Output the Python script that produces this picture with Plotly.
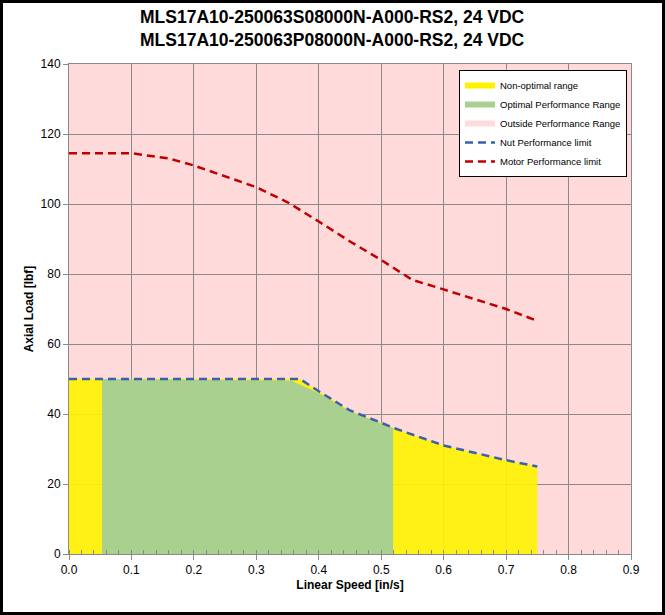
import plotly.graph_objects as go

# ---- data ----
nut_x = [0.0, 0.37, 0.40, 0.45, 0.50, 0.52, 0.60, 0.70, 0.75]
nut_y = [50.0, 50.0, 46.5, 41.0, 37.5, 36.0, 31.0, 26.8, 25.0]

optimal_x = [0.053, 0.355, 0.40, 0.45, 0.50, 0.519]
optimal_y = [50.0, 49.6, 46.0, 40.8, 37.3, 36.0]

motor_x = [0.0, 0.1, 0.16, 0.2, 0.3, 0.35, 0.4, 0.45, 0.5, 0.55, 0.6, 0.65, 0.7, 0.75]
motor_y = [114.5, 114.5, 113.0, 111.0, 104.8, 100.5, 95.0, 89.3, 84.0, 78.3, 75.6, 72.7, 70.0, 66.6]

title_lines = ["MLS17A10-250063S08000N-A000-RS2, 24 VDC",
               "MLS17A10-250063P08000N-A000-RS2, 24 VDC"]
x_ticks = [0.0, 0.1, 0.2, 0.3, 0.4, 0.5, 0.6, 0.7, 0.8, 0.9]
y_ticks = [0, 20, 40, 60, 80, 100, 120, 140]

YELLOW = "rgba(255,242,0,0.9)"
GREEN = "#A9D08E"
PINK = "#FFDADA"
BLUE = "#3A62A8"
RED = "#C00000"
GRID = "#8A8A8A"
FONT = "Liberation Sans, Arial, sans-serif"

W, H = 665, 615
ML, MR, MT, MB = 69, 34, 64, 61
PW, PH = W - ML - MR, H - MT - MB

fig = go.Figure()

# filled regions (legend-less)
fig.add_trace(go.Scatter(x=nut_x, y=nut_y, fill="tozeroy", fillcolor=YELLOW,
                         mode="lines", line=dict(width=0, color=YELLOW),
                         showlegend=False, hoverinfo="skip"))
fig.add_trace(go.Scatter(x=optimal_x, y=optimal_y, fill="tozeroy", fillcolor=GREEN,
                         mode="lines", line=dict(width=0, color=GREEN),
                         showlegend=False, hoverinfo="skip"))

# legend entries for fills
fig.add_trace(go.Scatter(x=[None], y=[None], mode="lines", name="Non-optimal range",
                         line=dict(color="#FFF200", width=6)))
fig.add_trace(go.Scatter(x=[None], y=[None], mode="lines", name="Optimal Performance Range",
                         line=dict(color=GREEN, width=6)))
fig.add_trace(go.Scatter(x=[None], y=[None], mode="lines", name="Outside Performance Range",
                         line=dict(color=PINK, width=6)))

fig.add_trace(go.Scatter(x=nut_x, y=nut_y, mode="lines", name="Nut Performance limit",
                         line=dict(color=BLUE, width=2.5, dash="8px,5px")))
fig.add_trace(go.Scatter(x=motor_x, y=motor_y, mode="lines", name="Motor Performance limit",
                         line=dict(color=RED, width=2.5, dash="8px,5px")))

fig.update_layout(
    width=W, height=H,
    margin=dict(l=ML, r=MR, t=MT, b=MB),
    paper_bgcolor="white",
    plot_bgcolor=PINK,
    font=dict(family=FONT, color="#1a1a1a", size=12),
    legend=dict(x=(459 - ML) / PW, y=(H - MB - 70) / PH, xanchor="left", yanchor="top",
                bgcolor="white", bordercolor="black", borderwidth=1,
                font=dict(size=9.5, color="black"), tracegroupgap=0),
    showlegend=True,
)

# two-line title as annotations
for i, line in enumerate(title_lines):
    fig.add_annotation(text=f"<b>{line}</b>", xref="paper", yref="paper",
                       x=(332 - ML) / PW, y=1 + (MT - (17 + 23 * i)) / PH,
                       xanchor="center", yanchor="middle", showarrow=False,
                       font=dict(size=17.5, color="black", family=FONT))

fig.update_xaxes(
    range=[0, 0.9], tickvals=x_ticks, ticktext=[f"{v:.1f}" for v in x_ticks],
    showgrid=True, gridcolor=GRID, gridwidth=1,
    showline=True, linecolor=GRID, linewidth=1, mirror=True,
    ticks="outside", ticklen=5, tickcolor=GRID,
    minor=dict(dtick=0.02, ticks="inside", ticklen=4, tickcolor=GRID, showgrid=False),
    zeroline=False,
    title=dict(text="<b>Linear Speed [in/s]</b>", font=dict(size=12, color="black"), standoff=4),
    tickfont=dict(size=12, color="black"),
)
fig.update_yaxes(
    range=[0, 140], tickvals=y_ticks,
    showgrid=True, gridcolor=GRID, gridwidth=1,
    showline=True, linecolor=GRID, linewidth=1, mirror=True,
    ticks="outside", ticklen=5, tickcolor=GRID,
    zeroline=False,
    title=dict(text="<b>Axial Load [lbf]</b>", font=dict(size=12, color="black"), standoff=4),
    tickfont=dict(size=12, color="black"),
)

# outer chart frame
fig.add_shape(type="rect", xref="paper", yref="paper",
              x0=(-ML + 1.5) / PW, x1=1 + (MR - 1.5) / PW,
              y0=(-MB + 1.5) / PH, y1=1 + (MT - 1.5) / PH,
              line=dict(color="black", width=3), fillcolor="rgba(0,0,0,0)", layer="above")

fig.write_html("out.html")
